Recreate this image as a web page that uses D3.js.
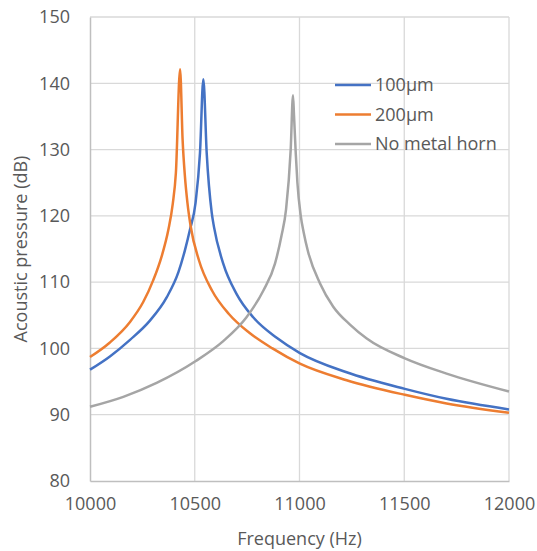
<!DOCTYPE html>
<html>
<head>
<meta charset="utf-8">
<script src="https://cdn.jsdelivr.net/npm/d3@7"></script>
<style>
  html, body { margin: 0; padding: 0; background: #fff; }
  svg text { font-family: "Open Sans", "Noto Sans", sans-serif; fill: #595959; }
</style>
</head>
<body>
<svg id="chart" width="537" height="551"></svg>
<script>
// Acoustic pressure spectra (frequency in Hz, level in dB)
const freq100 = [10000,10095,10191,10286,10366,10422,10453,10477,10504,10525,10541,10557,10581,10592,10636,10700,10779,10891,11002,11225,11503,11702,12000];
const db100   = [96.8,98.8,101.3,104.2,107.7,111.5,114.8,117.9,122.0,129.5,140.6,129.5,120.5,118.3,112.8,108.2,104.7,101.6,99.3,96.4,93.9,92.4,90.8];

const freq200 = [10000,10095,10191,10254,10302,10342,10374,10395,10410,10430,10442,10453,10465,10480,10520,10583,10663,10759,10871,11002,11225,11503,11702,12000];
const db200   = [98.7,100.9,104.0,107.0,110.3,113.9,117.9,121.8,126.5,142.1,131.5,126.0,122.0,118.5,113.3,108.7,105.2,102.4,100.0,97.7,95.2,93.0,91.7,90.3];

const freqNone = [10000,10159,10318,10505,10636,10747,10827,10883,10914,10936,10958,10969,10974,10982,10990,11006,11020,11040,11098,11161,11241,11321,11503,11702,12000];
const dbNone   = [91.2,92.7,94.8,98.1,101.1,104.7,108.7,112.8,117.0,121.0,130.0,138.2,135.0,129.5,125.0,120.0,117.5,114.7,109.8,106.3,103.6,101.5,98.5,96.2,93.5];

const seriesNames  = ["100µm", "200µm", "No metal horn"];
const seriesColors = ["#4472C4", "#ED7D31", "#A5A5A5"];

const xTicks = [10000, 10500, 11000, 11500, 12000];
const yTicks = [80, 90, 100, 110, 120, 130, 140, 150];

const xTitle = "Frequency (Hz)";
const yTitle = "Acoustic pressure (dB)";

const series = [
  { name: seriesNames[0], color: seriesColors[0], pts: freq100.map((f, i) => [f, db100[i]]) },
  { name: seriesNames[1], color: seriesColors[1], pts: freq200.map((f, i) => [f, db200[i]]) },
  { name: seriesNames[2], color: seriesColors[2], pts: freqNone.map((f, i) => [f, dbNone[i]]) }
];

const svg = d3.select("#chart");
const plot = { left: 90, right: 509, top: 17, bottom: 481 };

const x = d3.scaleLinear().domain([10000, 12000]).range([plot.left, plot.right]);
const y = d3.scaleLinear().domain([80, 150]).range([plot.bottom, plot.top]);

// Gridlines
const grid = svg.append("g");
grid.selectAll(".hg").data(yTicks.filter(t => t > 80)).enter().append("line")
  .attr("x1", plot.left).attr("x2", plot.right)
  .attr("y1", d => y(d)).attr("y2", d => y(d))
  .attr("stroke", "#d9d9d9").attr("stroke-width", 1.3);
grid.selectAll(".vg").data(xTicks.filter(t => t > 10000)).enter().append("line")
  .attr("y1", plot.top).attr("y2", plot.bottom)
  .attr("x1", d => x(d)).attr("x2", d => x(d))
  .attr("stroke", "#d9d9d9").attr("stroke-width", 1.3);

// Axes
const xAxis = svg.append("g").attr("transform", `translate(0,${plot.bottom})`)
  .call(d3.axisBottom(x).tickValues(xTicks).tickSize(0).tickPadding(16).tickFormat(d3.format("d")));
const yAxis = svg.append("g").attr("transform", `translate(${plot.left},0)`)
  .call(d3.axisLeft(y).tickValues(yTicks).tickSize(0).tickPadding(20).tickFormat(d3.format("d")));
[xAxis, yAxis].forEach(a => {
  a.select(".domain").attr("stroke", "#bfbfbf").attr("stroke-width", 1.5);
  a.selectAll("text").style("font-size", "18px").attr("fill", "#595959");
});

// Series lines
const line = d3.line().x(d => x(d[0])).y(d => y(d[1])).curve(d3.curveMonotoneX);
svg.append("g").selectAll("path").data(series).enter().append("path")
  .attr("d", d => line(d.pts))
  .attr("fill", "none")
  .attr("stroke", d => d.color)
  .attr("stroke-width", 2.5)
  .attr("stroke-linejoin", "round");

// Axis titles
svg.append("text")
  .attr("x", (plot.left + plot.right) / 2).attr("y", 545)
  .attr("text-anchor", "middle").style("font-size", "18px")
  .text(xTitle);
svg.append("text")
  .attr("transform", `translate(27,${(plot.top + plot.bottom) / 2}) rotate(-90)`)
  .attr("text-anchor", "middle").style("font-size", "18px")
  .text(yTitle);

// Legend
const legend = svg.append("g").attr("transform", "translate(335,85)");
const item = legend.selectAll("g").data(series).enter().append("g")
  .attr("transform", (d, i) => `translate(0,${i * 29.5})`);
item.append("line").attr("x1", 0).attr("x2", 36).attr("y1", 0).attr("y2", 0)
  .attr("stroke", d => d.color).attr("stroke-width", 2.5);
item.append("text").attr("x", 40).attr("y", 0).attr("dy", "0.35em")
  .style("font-size", "18px").text(d => d.name);
</script>
</body>
</html>
